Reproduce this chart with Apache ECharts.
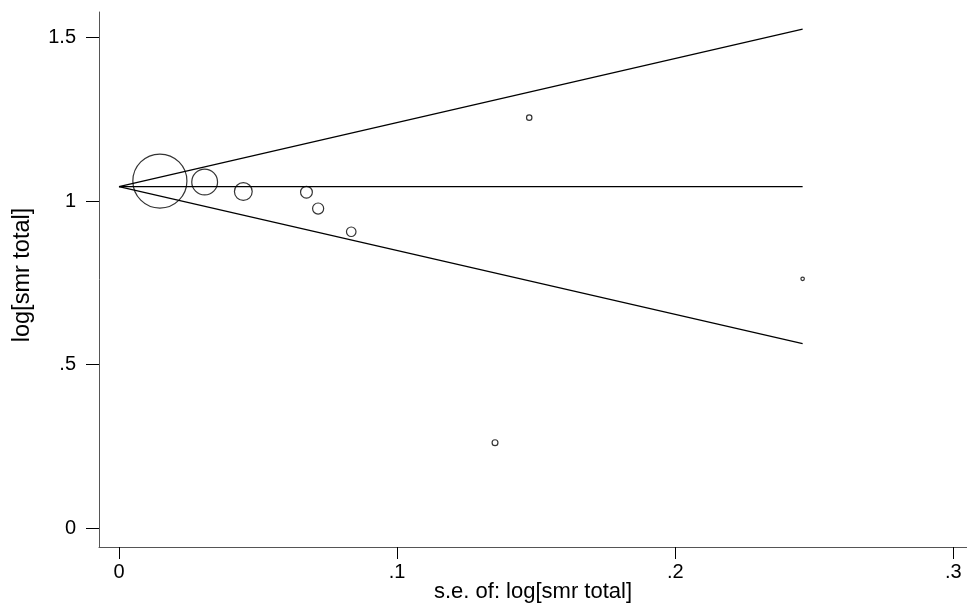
<!DOCTYPE html>
<html>
<head>
<meta charset="utf-8">
<script src="https://cdn.jsdelivr.net/npm/echarts@6/dist/echarts.min.js"></script>
<style>
html,body{margin:0;padding:0;background:#fff;}
#chart{width:967px;height:604px;}
</style>
</head>
<body>
<div id="chart"></div>
<script>
// Study standard errors (x) and log SMR estimates (y)
const studySE = [0.0147, 0.0308, 0.0447, 0.0674, 0.0716, 0.0835, 0.1352, 0.1475, 0.2458];
const studyLogSMR = [1.061, 1.058, 1.029, 1.027, 0.977, 0.906, 0.261, 1.255, 0.762];
// Funnel (pseudo 95% limits) end points
const funnelSE = [0, 0.2458];
const funnelUpper = [1.044, 1.5255];
const funnelCenter = [1.044, 1.044];
const funnelLower = [1.044, 0.5638];
// Tick values
const xTicks = [0, 0.1, 0.2, 0.3];
const yTicks = [0, 0.5, 1, 1.5];
const xTitle = 's.e. of: log[smr total]';
const yTitle = 'log[smr total]';

const FONT = '"Liberation Sans", Arial, Helvetica, sans-serif';
function fmt(v){
  let s = String(Math.round(v*1000)/1000);
  if (s.startsWith('0.')) s = s.slice(1);
  return s;
}
function pairs(xs, ys){ return xs.map((x,i)=>[x, ys[i]]); }

const chart = echarts.init(document.getElementById('chart'), null, {renderer:'canvas'});
chart.setOption({
  animation: false,
  backgroundColor: '#fff',
  grid: { left: 99, right: 0, top: 12, bottom: 57, containLabel: false, outerBoundsMode: 'none' },
  xAxis: {
    type: 'value', min: -0.00719, max: 0.3049,
    name: xTitle, nameLocation: 'middle', nameGap: 34, nameMoveOverlap: false,
    nameTextStyle: { fontFamily: FONT, fontSize: 22, color: '#000', verticalAlign: 'top' },
    axisLine: { show: true, onZero: false, lineStyle: { color: '#555', width: 1 } },
    axisTick: { show: true, customValues: xTicks, length: 12, lineStyle: { color: '#000', width: 1 } },
    axisLabel: { customValues: xTicks, formatter: fmt, margin: 15, fontFamily: FONT, fontSize: 20, color: '#000' },
    splitLine: { show: false }
  },
  yAxis: {
    type: 'value', min: -0.058, max: 1.578,
    name: yTitle, nameLocation: 'middle', nameGap: 64, nameRotate: 90, nameMoveOverlap: false,
    nameTextStyle: { fontFamily: FONT, fontSize: 23.5, color: '#000', padding: [0,0,0,9] },
    axisLine: { show: true, onZero: false, lineStyle: { color: '#555', width: 1 } },
    axisTick: { show: true, customValues: yTicks, length: 13, lineStyle: { color: '#000', width: 1 } },
    axisLabel: { customValues: yTicks, formatter: fmt, margin: 23, fontFamily: FONT, fontSize: 20, color: '#000' },
    splitLine: { show: false }
  },
  series: [
    { type: 'line', data: pairs(funnelSE, funnelUpper), symbol: 'none', lineStyle: { color: '#000', width: 1.2 }, silent: true },
    { type: 'line', data: pairs(funnelSE, funnelCenter), symbol: 'none', lineStyle: { color: '#000', width: 1.2 }, silent: true },
    { type: 'line', data: pairs(funnelSE, funnelLower), symbol: 'none', lineStyle: { color: '#000', width: 1.2 }, silent: true },
    {
      type: 'scatter', data: pairs(studySE, studyLogSMR), symbol: 'circle',
      symbolSize: function(v){ return Math.max(0.795 / v[0], 3.5); },
      itemStyle: { color: 'rgba(0,0,0,0)', borderColor: '#000', borderWidth: 1.2 },
      clip: false
    }
  ]
});
</script>
</body>
</html>
